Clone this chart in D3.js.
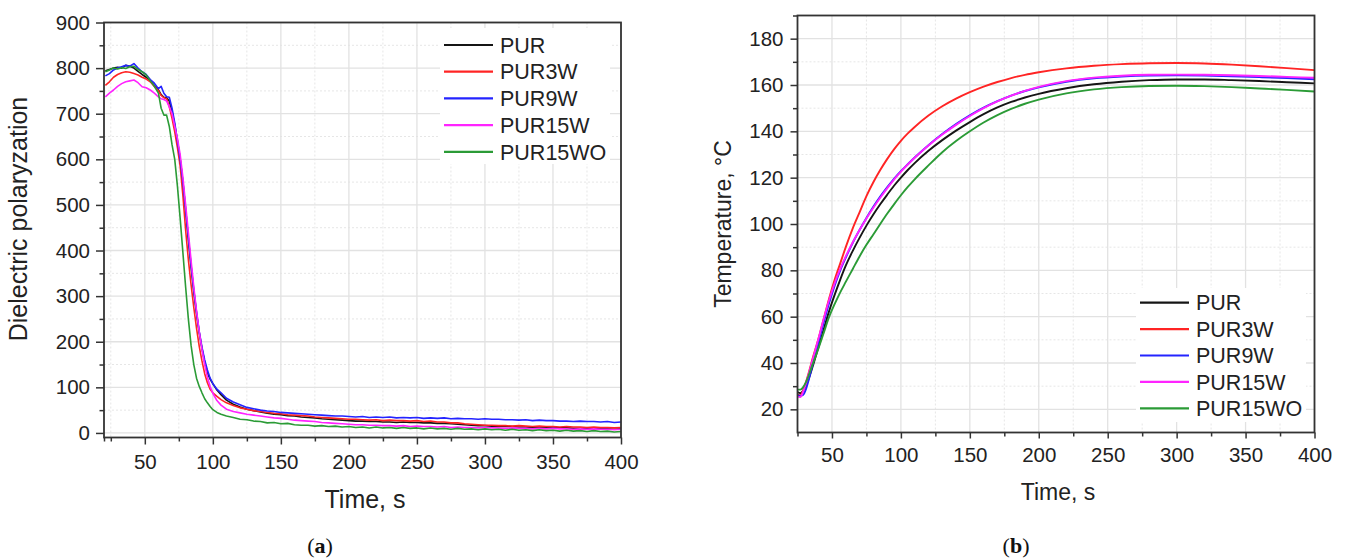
<!DOCTYPE html>
<html><head><meta charset="utf-8">
<script src="https://cdn.jsdelivr.net/npm/d3@7"></script>
<style>
html,body{margin:0;padding:0;background:#fff;}
svg{display:block;font-family:"Liberation Sans",Arial,Helvetica,sans-serif;}
</style></head><body>
<svg id="chart" width="1346" height="560"></svg>
<script>
// ---- series names ----
const seriesNames = ["PUR", "PUR3W", "PUR9W", "PUR15W", "PUR15WO"];

// ---- (a) dielectric polarization vs time ----
const polTime = [21,24,27,30,33,36,39,42,45,48,51,54,57,60,
  62,64,66,68,70,72,74,76,78,80,82,84,86,88,90,92,94,96,98,100,103,106,
  110,115,120,125,130,135,140,145,150,155,160,165,170,175,180,185,190,195,200,205,
  210,215,220,225,230,235,240,245,250,255,260,265,270,275,280,285,290,295,300,305,
  310,315,320,325,330,335,340,345,350,355,360,365,370,375,380,385,390,395,400];
const polPUR = [794,797,800,802,800,806,804,800,793,786,780,772,762,752,
  742,736,735,728,705,675,640,600,550,490,425,365,310,262,220,185,155,132,118,108,94,84,
  72,63,57,52,49,46,43,41,40,38,37,35,34,33,31,30,29,28,27,26,
  26,25,25,24,24,23,24,23,23,22,22,21,21,20,19,18,17,16,16,15,
  15,14,14,13,13,12,13,12,12,11,11,10,10,9,10,9,9,8,9];
const polPUR3W = [762,770,780,786,790,792,791,788,785,780,776,770,760,750,
  740,735,733,715,690,660,625,585,520,445,380,325,275,230,190,158,130,110,96,88,80,73,
  66,60,55,52,49,47,45,43,42,40,39,38,37,35,34,33,32,31,30,30,
  29,28,29,27,28,27,27,26,27,25,26,24,24,22,22,20,19,18,17,17,
  16,16,15,16,15,14,15,14,14,13,14,13,13,12,13,12,12,11,12];
const polPUR9W = [783,788,796,800,803,806,804,810,800,792,786,775,767,755,
  760,745,737,736,712,680,640,600,550,490,428,368,313,265,222,188,160,138,120,108,96,88,
  76,68,62,56,53,50,48,47,45,44,43,42,41,40,39,38,37,37,36,35,
  36,34,35,34,35,33,34,33,34,32,33,32,33,31,32,31,31,30,31,30,
  30,29,29,28,29,27,28,27,27,26,26,25,26,25,25,24,25,23,24];
const polPUR15W = [737,745,752,760,766,770,772,774,768,759,757,752,745,737,
  733,731,728,715,700,672,645,610,560,500,440,378,320,268,222,183,150,122,102,87,71,61,
  52,47,44,41,39,37,35,33,32,30,28,27,26,25,23,22,21,20,19,18,
  18,17,17,16,16,15,16,14,15,14,14,13,14,12,13,12,12,11,12,11,
  11,10,11,10,10,9,10,9,10,9,9,8,9,8,9,8,8,7,8];
const polPUR15WO = [792,796,800,798,801,799,803,804,797,792,785,772,760,745,
  712,697,697,672,632,600,540,470,395,320,250,192,150,120,102,88,75,66,58,51,45,41,
  37,34,30,29,26,25,22,23,20,21,18,17,17,15,16,14,15,13,14,12,
  13,11,13,11,12,10,12,10,11,9,11,9,10,8,10,8,9,7,9,7,
  8,6,8,6,7,5,7,5,6,4,6,4,5,3,5,3,4,2,3];
const polXTicks = [50,100,150,200,250,300,350,400];
const polYTicks = [0,100,200,300,400,500,600,700,800,900];

// ---- (b) temperature vs time ----
const tempTime = [25,27,29,31,33,36,40,44,48,52,56,60,65,70,75,80,85,90,95,100,105,110,
  120,130,140,150,160,170,180,190,200,220,240,260,280,300,320,340,360,380,400];
const tempPUR = [27.5,27,28,30,33,38.5,46.5,54.5,62.5,69.5,76,82,88.3,94,99.3,104.1,108.5,112.6,116.5,120,123.3,126.3,
  131.6,136.2,140.3,144,147.4,150.3,152.7,154.6,156.2,158.6,160.3,161.4,162.1,162.4,162.4,162.1,161.7,161.2,160.7];
const tempPUR3W = [26.5,26,28,31.5,35.5,42,50,59,68,76,83,90,98,105,112,118,123.3,128,132.2,135.9,139.1,141.9,
  146.8,150.8,154.1,156.9,159.3,161.3,163,164.4,165.5,167.2,168.3,169,169.4,169.5,169.3,168.8,168.1,167.3,166.4];
const tempPUR9W = [26,25.8,26.2,28.5,32.5,39.5,48.5,57.5,66,73.5,80,85.5,91.8,97.4,102.6,107.4,111.8,115.8,119.5,122.8,125.8,128.7,
  134,138.8,143.1,146.9,150.2,153,155.4,157.4,159,161.4,162.9,163.7,164.1,164.2,164.1,163.8,163.4,163,162.5];
const tempPUR15W = [25.5,25.3,27.5,31,35,41.5,50,59,67.3,74.5,80.6,86,92,97.4,102.4,107,111.3,115.4,119.2,122.6,125.7,128.6,
  133.9,138.6,142.8,146.6,150,152.9,155.4,157.5,159.2,161.7,163.2,164,164.4,164.5,164.4,164.2,163.9,163.5,163.1];
const tempPUR15WO = [28.5,28.5,29.5,31.5,34.5,39.5,46,53,60,65.5,70.5,75,80.5,86,91,95.5,100,104.4,108.5,112.4,116,119.3,
  125.3,131,135.8,140,143.8,147,149.7,151.9,153.7,156.4,158.1,159.1,159.6,159.7,159.5,159.1,158.5,157.9,157.2];
const tempXTicks = [50,100,150,200,250,300,350,400];
const tempYTicks = [20,40,60,80,100,120,140,160,180];

// ---- drawing ----
const lineColors = ["#151515", "#ff2424", "#2424ff", "#ff24ff", "#2b9b36"];
const svg = d3.select("#chart");

function drawPanel(cfg) {
  const x = d3.scaleLinear().domain(cfg.xDomain).range([cfg.left, cfg.right]);
  const y = d3.scaleLinear().domain(cfg.yDomain).range([cfg.bottom, cfg.top]);
  const g = svg.append("g");

  // grid: minor dotted, major solid
  const grid = g.append("g");
  cfg.xMinor.forEach(v => grid.append("line")
    .attr("x1", x(v)).attr("x2", x(v)).attr("y1", cfg.top).attr("y2", cfg.bottom)
    .attr("stroke", "#e6e6e6").attr("stroke-width", 1).attr("stroke-dasharray", "2,2"));
  cfg.yMinor.forEach(v => grid.append("line")
    .attr("y1", y(v)).attr("y2", y(v)).attr("x1", cfg.left).attr("x2", cfg.right)
    .attr("stroke", "#e6e6e6").attr("stroke-width", 1).attr("stroke-dasharray", "2,2"));
  cfg.xTicks.forEach(v => grid.append("line")
    .attr("x1", x(v)).attr("x2", x(v)).attr("y1", cfg.top).attr("y2", cfg.bottom)
    .attr("stroke", "#e2e2e2").attr("stroke-width", 1.3));
  cfg.yTicks.forEach(v => grid.append("line")
    .attr("y1", y(v)).attr("y2", y(v)).attr("x1", cfg.left).attr("x2", cfg.right)
    .attr("stroke", "#e2e2e2").attr("stroke-width", 1.3));

  // curves
  const line = d3.line().x(d => x(d[0])).y(d => y(d[1])).curve(cfg.curve);
  cfg.series.forEach((vals, i) => {
    const pts = cfg.time.map((t, k) => [t, vals[k]]);
    g.append("path").datum(pts).attr("d", line)
      .attr("fill", "none").attr("stroke", lineColors[i])
      .attr("stroke-width", cfg.lineWidth).attr("stroke-linejoin", "round");
  });

  // legend
  const lg = g.append("g");
  lg.append("rect").attr("x", cfg.legend.boxX).attr("y", cfg.legend.boxY)
    .attr("width", cfg.legend.boxW).attr("height", cfg.legend.boxH).attr("fill", "#fff");
  seriesNames.forEach((name, i) => {
    const yy = cfg.legend.y0 + i * cfg.legend.dy;
    lg.append("line").attr("x1", cfg.legend.x0).attr("x2", cfg.legend.x0 + 49)
      .attr("y1", yy).attr("y2", yy).attr("stroke", lineColors[i]).attr("stroke-width", 2.2);
    lg.append("text").attr("x", cfg.legend.x0 + 56).attr("y", yy).attr("dy", "0.36em")
      .attr("font-size", 21.5).attr("fill", "#222").text(name);
  });

  // axes
  const axStyle = sel => {
    sel.select(".domain").remove();
    sel.selectAll(".tick line").attr("stroke", "#333").attr("stroke-width", 1.5);
    sel.selectAll(".tick text").attr("font-size", 20.5).attr("fill", "#222")
      .attr("font-family", '"Liberation Sans",Arial,sans-serif');
  };
  g.append("g").attr("transform", `translate(0,${cfg.bottom})`)
    .call(d3.axisBottom(x).tickValues(cfg.xMinor.concat([cfg.xDomain[0]])).tickSize(4).tickFormat(""))
    .call(axStyle);
  g.append("g").attr("transform", `translate(0,${cfg.bottom})`)
    .call(d3.axisBottom(x).tickValues(cfg.xTicks).tickSize(cfg.xTickLen).tickPadding(cfg.xPad).tickFormat(d3.format("d")))
    .call(axStyle);
  g.append("g").attr("transform", `translate(${cfg.left},0)`)
    .call(d3.axisLeft(y).tickValues(cfg.yMinor).tickSize(4.5).tickFormat(""))
    .call(axStyle);
  g.append("g").attr("transform", `translate(${cfg.left},0)`)
    .call(d3.axisLeft(y).tickValues(cfg.yTicks).tickSize(cfg.yTickLen).tickPadding(cfg.yPad).tickFormat(d3.format("d")))
    .call(axStyle);

  // frame
  g.append("rect").attr("x", cfg.left).attr("y", cfg.top)
    .attr("width", cfg.right - cfg.left).attr("height", cfg.bottom - cfg.top)
    .attr("fill", "none").attr("stroke", "#333").attr("stroke-width", 1.8);

  // titles
  g.append("text").attr("x", cfg.xTitle[0]).attr("y", cfg.xTitle[1])
    .attr("text-anchor", "middle").attr("font-size", cfg.titleSize).attr("fill", "#222")
    .text(cfg.xLabel);
  g.append("text").attr("transform", `translate(${cfg.yTitle[0]},${cfg.yTitle[1]}) rotate(-90)`)
    .attr("text-anchor", "middle").attr("font-size", cfg.titleSize).attr("fill", "#222")
    .text(cfg.yLabel);

  // panel caption
  const cap = g.append("text").attr("x", cfg.caption[0]).attr("y", cfg.caption[1])
    .attr("text-anchor", "middle").attr("font-size", 22).attr("fill", "#111")
    .attr("font-family", '"Liberation Serif","DejaVu Serif",serif');
  cap.append("tspan").text("(");
  cap.append("tspan").attr("font-weight", "bold").text(cfg.captionLetter);
  cap.append("tspan").text(")");
}

drawPanel({
  left: 104, right: 621, top: 22.5, bottom: 437.5,
  xDomain: [20, 400], yDomain: [-10, 900],
  xTicks: polXTicks, yTicks: polYTicks,
  xMinor: [25,75,125,175,225,275,325,375],
  yMinor: [50,150,250,350,450,550,650,750,850],
  xTickLen: 7, xPad: 10, yTickLen: 8, yPad: 6,
  time: polTime,
  series: [polPUR, polPUR3W, polPUR9W, polPUR15W, polPUR15WO],
  curve: d3.curveLinear, lineWidth: 1.6,
  legend: { boxX: 440, boxY: 28, boxW: 170, boxH: 136, x0: 444, y0: 45, dy: 26.7 },
  xLabel: "Time, s", yLabel: "Dielectric polaryzation",
  xTitle: [365, 508], yTitle: [27, 219], titleSize: 25,
  caption: [320, 553], captionLetter: "a"
});

drawPanel({
  left: 797.5, right: 1314.5, top: 15.5, bottom: 432.5,
  xDomain: [25, 400], yDomain: [10, 190],
  xTicks: tempXTicks, yTicks: tempYTicks,
  xMinor: [75,125,175,225,275,325,375],
  yMinor: [30,50,70,90,110,130,150,170,190],
  xTickLen: 6, xPad: 9, yTickLen: 7, yPad: 7,
  time: tempTime,
  series: [tempPUR, tempPUR3W, tempPUR9W, tempPUR15W, tempPUR15WO],
  curve: d3.curveMonotoneX, lineWidth: 1.9,
  legend: { boxX: 1136, boxY: 288, boxW: 170, boxH: 134, x0: 1140, y0: 302.7, dy: 26.4 },
  xLabel: "Time, s", yLabel: "Temperature, °C",
  xTitle: [1058, 500], yTitle: [731, 224], titleSize: 23,
  caption: [1016, 553], captionLetter: "b"
});
</script>
</body></html>
